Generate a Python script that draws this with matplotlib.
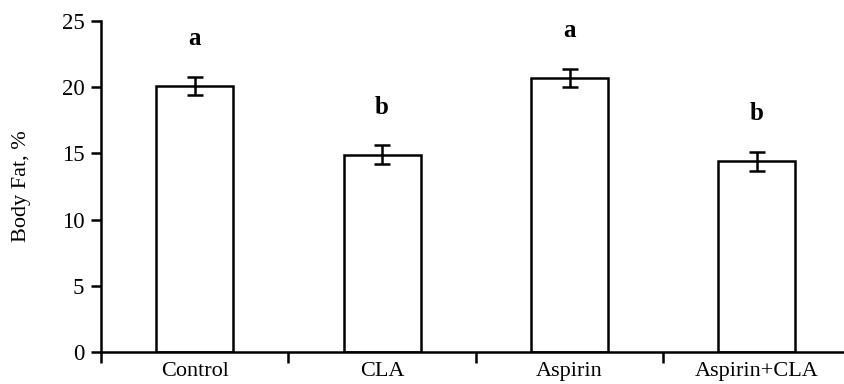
import numpy as np
import matplotlib
matplotlib.use('Agg')
import matplotlib.pyplot as plt

# data
groups = ['Control', 'CLA', 'Aspirin', 'Aspirin+CLA']
body_fat = [20.1, 14.9, 20.7, 14.4]
sem = [0.7, 0.7, 0.7, 0.7]
letters = ['a', 'b', 'a', 'b']

plt.rcParams['font.family'] = ['Liberation Serif', 'DejaVu Serif']

fig = plt.figure(figsize=(8.45, 3.84), dpi=100)
ax = fig.add_axes([0.1195, 0.0833, 0.8805, 0.862])

x = np.arange(len(groups))
ax.bar(x, body_fat, width=0.41, color='white', edgecolor='black', linewidth=1.8,
       yerr=sem, error_kw=dict(ecolor='black', elinewidth=1.8, capsize=5.5, capthick=1.8))

# significance letters above the error bars
for xi, v, e, lab in zip(x, body_fat, sem, letters):
    ax.text(xi, v + e + 2.9, lab, ha='center', va='center',
            fontsize=18, fontweight='bold')

ax.set_xlim(-0.5, 3.47)
ax.set_ylim(0, 25)
ax.set_yticks(range(0, 26, 5))
ax.set_ylabel('Body Fat, %', fontsize=16, labelpad=22)

# labels at bar centres, tick marks between groups
ax.set_xticks(x)
ax.set_xticklabels(groups)
ax.set_xticks(np.arange(-0.5, 3.0, 1.0), minor=True)
ax.tick_params(axis='x', which='major', length=0, pad=7, labelsize=16)
ax.tick_params(axis='x', which='minor', length=8, width=1.8, direction='out')
ax.tick_params(axis='y', length=7, width=1.8, direction='out', pad=5, labelsize=16.5)

for s in ['top', 'right']:
    ax.spines[s].set_visible(False)
for s in ['left', 'bottom']:
    ax.spines[s].set_linewidth(1.8)

fig.savefig('out.png', dpi=100)
